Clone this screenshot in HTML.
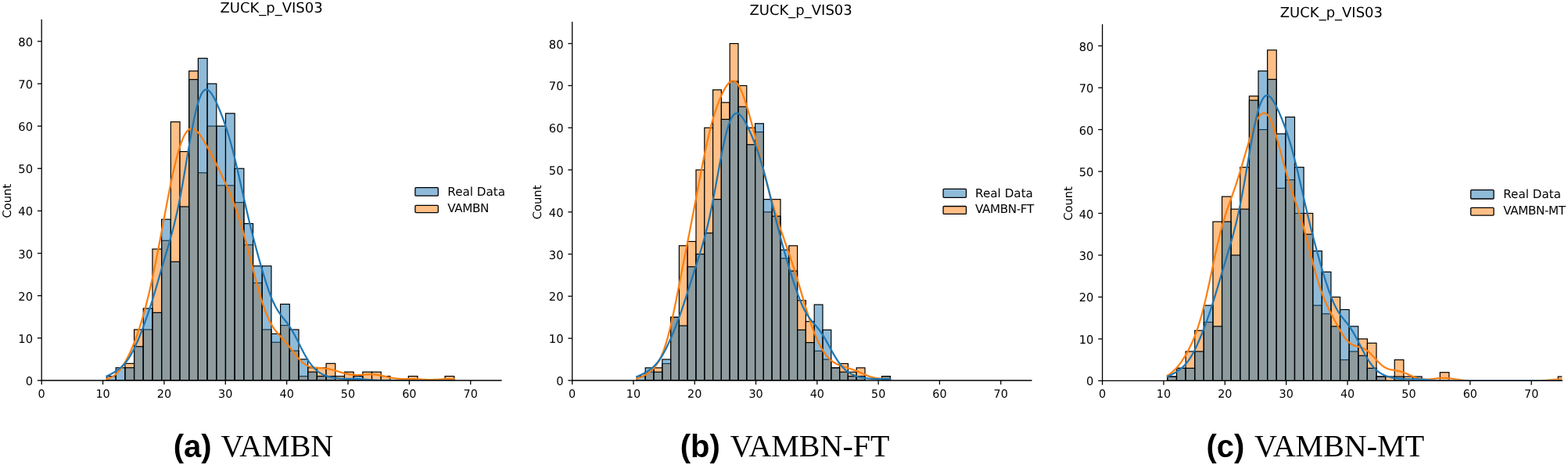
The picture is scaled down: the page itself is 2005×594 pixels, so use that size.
<!DOCTYPE html>
<html><head><meta charset="utf-8"><title>ZUCK_p_VIS03 histograms</title>
<style>
html,body{margin:0;padding:0;background:#fff;}
body{width:2005px;height:594px;position:relative;overflow:hidden;}
svg{position:absolute;left:0;top:0;}
svg text{font-family:'DejaVu Sans','Liberation Sans',sans-serif;fill:#000;text-rendering:geometricPrecision;}
.cap{position:absolute;top:541.5px;white-space:nowrap;font-size:40px;line-height:56px;color:#000;}
.cap.b{font-family:'Liberation Sans',Arial,sans-serif;font-weight:bold;}
.cap.s{font-family:'Liberation Serif','Times New Roman',serif;}
</style></head><body>
<svg width="2005" height="594" viewBox="0 0 2005 594">
<clipPath id="cVAMBN"><rect x="53.2" y="25.3" width="587.70" height="460.70"/></clipPath>
<g clip-path="url(#cVAMBN)">
<rect x="159.88" y="464.34" width="11.69" height="21.66" fill="#ffbf86" stroke="#000" stroke-width="1.2"/>
<rect x="171.57" y="421.02" width="11.69" height="64.98" fill="#ffbf86" stroke="#000" stroke-width="1.2"/>
<rect x="183.26" y="421.02" width="11.69" height="64.98" fill="#ffbf86" stroke="#000" stroke-width="1.2"/>
<rect x="194.95" y="318.13" width="11.69" height="167.87" fill="#ffbf86" stroke="#000" stroke-width="1.2"/>
<rect x="206.64" y="307.31" width="11.69" height="178.69" fill="#ffbf86" stroke="#000" stroke-width="1.2"/>
<rect x="218.33" y="155.69" width="11.69" height="330.31" fill="#ffbf86" stroke="#000" stroke-width="1.2"/>
<rect x="230.02" y="193.59" width="11.69" height="292.41" fill="#ffbf86" stroke="#000" stroke-width="1.2"/>
<rect x="241.71" y="90.70" width="11.69" height="395.30" fill="#ffbf86" stroke="#000" stroke-width="1.2"/>
<rect x="253.40" y="220.67" width="11.69" height="265.33" fill="#ffbf86" stroke="#000" stroke-width="1.2"/>
<rect x="265.09" y="161.10" width="11.69" height="324.90" fill="#ffbf86" stroke="#000" stroke-width="1.2"/>
<rect x="276.78" y="236.91" width="11.69" height="249.09" fill="#ffbf86" stroke="#000" stroke-width="1.2"/>
<rect x="288.47" y="236.91" width="11.69" height="249.09" fill="#ffbf86" stroke="#000" stroke-width="1.2"/>
<rect x="300.16" y="258.57" width="11.69" height="227.43" fill="#ffbf86" stroke="#000" stroke-width="1.2"/>
<rect x="311.85" y="312.72" width="11.69" height="173.28" fill="#ffbf86" stroke="#000" stroke-width="1.2"/>
<rect x="323.54" y="361.45" width="11.69" height="124.55" fill="#ffbf86" stroke="#000" stroke-width="1.2"/>
<rect x="335.23" y="421.02" width="11.69" height="64.98" fill="#ffbf86" stroke="#000" stroke-width="1.2"/>
<rect x="346.92" y="437.26" width="11.69" height="48.73" fill="#ffbf86" stroke="#000" stroke-width="1.2"/>
<rect x="358.61" y="415.61" width="11.69" height="70.39" fill="#ffbf86" stroke="#000" stroke-width="1.2"/>
<rect x="370.30" y="448.10" width="11.69" height="37.91" fill="#ffbf86" stroke="#000" stroke-width="1.2"/>
<rect x="381.99" y="480.58" width="11.69" height="5.42" fill="#ffbf86" stroke="#000" stroke-width="1.2"/>
<rect x="393.68" y="469.75" width="11.69" height="16.25" fill="#ffbf86" stroke="#000" stroke-width="1.2"/>
<rect x="405.37" y="469.75" width="11.69" height="16.25" fill="#ffbf86" stroke="#000" stroke-width="1.2"/>
<rect x="417.06" y="464.34" width="11.69" height="21.66" fill="#ffbf86" stroke="#000" stroke-width="1.2"/>
<rect x="428.75" y="480.58" width="11.69" height="5.42" fill="#ffbf86" stroke="#000" stroke-width="1.2"/>
<rect x="440.44" y="475.17" width="11.69" height="10.83" fill="#ffbf86" stroke="#000" stroke-width="1.2"/>
<rect x="463.82" y="475.17" width="11.69" height="10.83" fill="#ffbf86" stroke="#000" stroke-width="1.2"/>
<rect x="475.51" y="475.17" width="11.69" height="10.83" fill="#ffbf86" stroke="#000" stroke-width="1.2"/>
<rect x="487.20" y="480.58" width="11.69" height="5.42" fill="#ffbf86" stroke="#000" stroke-width="1.2"/>
<rect x="522.27" y="480.58" width="11.69" height="5.42" fill="#ffbf86" stroke="#000" stroke-width="1.2"/>
<rect x="569.03" y="480.58" width="11.69" height="5.42" fill="#ffbf86" stroke="#000" stroke-width="1.2"/>
<rect x="136.50" y="480.58" width="11.69" height="5.42" fill="rgba(31,119,180,0.5)" stroke="#000" stroke-width="1.2"/>
<rect x="148.19" y="469.75" width="11.69" height="16.25" fill="rgba(31,119,180,0.5)" stroke="#000" stroke-width="1.2"/>
<rect x="159.88" y="469.75" width="11.69" height="16.25" fill="rgba(31,119,180,0.5)" stroke="#000" stroke-width="1.2"/>
<rect x="171.57" y="442.68" width="11.69" height="43.32" fill="rgba(31,119,180,0.5)" stroke="#000" stroke-width="1.2"/>
<rect x="183.26" y="393.94" width="11.69" height="92.06" fill="rgba(31,119,180,0.5)" stroke="#000" stroke-width="1.2"/>
<rect x="194.95" y="399.36" width="11.69" height="86.64" fill="rgba(31,119,180,0.5)" stroke="#000" stroke-width="1.2"/>
<rect x="206.64" y="280.23" width="11.69" height="205.77" fill="rgba(31,119,180,0.5)" stroke="#000" stroke-width="1.2"/>
<rect x="218.33" y="334.38" width="11.69" height="151.62" fill="rgba(31,119,180,0.5)" stroke="#000" stroke-width="1.2"/>
<rect x="230.02" y="263.99" width="11.69" height="222.02" fill="rgba(31,119,180,0.5)" stroke="#000" stroke-width="1.2"/>
<rect x="241.71" y="101.54" width="11.69" height="384.46" fill="rgba(31,119,180,0.5)" stroke="#000" stroke-width="1.2"/>
<rect x="253.40" y="74.46" width="11.69" height="411.54" fill="rgba(31,119,180,0.5)" stroke="#000" stroke-width="1.2"/>
<rect x="265.09" y="106.95" width="11.69" height="379.05" fill="rgba(31,119,180,0.5)" stroke="#000" stroke-width="1.2"/>
<rect x="276.78" y="161.10" width="11.69" height="324.90" fill="rgba(31,119,180,0.5)" stroke="#000" stroke-width="1.2"/>
<rect x="288.47" y="144.86" width="11.69" height="341.14" fill="rgba(31,119,180,0.5)" stroke="#000" stroke-width="1.2"/>
<rect x="300.16" y="215.25" width="11.69" height="270.75" fill="rgba(31,119,180,0.5)" stroke="#000" stroke-width="1.2"/>
<rect x="311.85" y="285.64" width="11.69" height="200.35" fill="rgba(31,119,180,0.5)" stroke="#000" stroke-width="1.2"/>
<rect x="323.54" y="339.79" width="11.69" height="146.21" fill="rgba(31,119,180,0.5)" stroke="#000" stroke-width="1.2"/>
<rect x="335.23" y="339.79" width="11.69" height="146.21" fill="rgba(31,119,180,0.5)" stroke="#000" stroke-width="1.2"/>
<rect x="346.92" y="426.44" width="11.69" height="59.56" fill="rgba(31,119,180,0.5)" stroke="#000" stroke-width="1.2"/>
<rect x="358.61" y="388.53" width="11.69" height="97.47" fill="rgba(31,119,180,0.5)" stroke="#000" stroke-width="1.2"/>
<rect x="370.30" y="421.02" width="11.69" height="64.98" fill="rgba(31,119,180,0.5)" stroke="#000" stroke-width="1.2"/>
<rect x="381.99" y="458.93" width="11.69" height="27.07" fill="rgba(31,119,180,0.5)" stroke="#000" stroke-width="1.2"/>
<rect x="393.68" y="475.17" width="11.69" height="10.83" fill="rgba(31,119,180,0.5)" stroke="#000" stroke-width="1.2"/>
<rect x="405.37" y="480.58" width="11.69" height="5.42" fill="rgba(31,119,180,0.5)" stroke="#000" stroke-width="1.2"/>
<rect x="417.06" y="480.58" width="11.69" height="5.42" fill="rgba(31,119,180,0.5)" stroke="#000" stroke-width="1.2"/>
<rect x="452.13" y="480.58" width="11.69" height="5.42" fill="rgba(31,119,180,0.5)" stroke="#000" stroke-width="1.2"/>
<polyline points="136.50,484.20 137.61,483.88 138.73,483.51 139.84,483.10 140.95,482.63 142.07,482.10 143.18,481.51 144.29,480.85 145.41,480.12 146.52,479.31 147.63,478.43 148.75,477.46 149.86,476.40 150.97,475.26 152.09,474.03 153.20,472.71 154.31,471.29 155.43,469.78 156.54,468.18 157.65,466.48 158.77,464.69 159.88,462.81 160.99,460.84 162.11,458.78 163.22,456.64 164.33,454.40 165.45,452.08 166.56,449.68 167.67,447.19 168.79,444.62 169.90,441.96 171.01,439.22 172.13,436.40 173.24,433.48 174.35,430.47 175.47,427.37 176.58,424.18 177.69,420.88 178.81,417.48 179.92,413.97 181.03,410.35 182.15,406.62 183.26,402.77 184.37,398.80 185.49,394.70 186.60,390.49 187.71,386.15 188.83,381.68 189.94,377.10 191.05,372.39 192.17,367.56 193.28,362.61 194.39,357.55 195.51,352.38 196.62,347.10 197.73,341.72 198.85,336.25 199.96,330.69 201.07,325.04 202.19,319.33 203.30,313.54 204.41,307.70 205.53,301.82 206.64,295.89 207.75,289.94 208.87,283.98 209.98,278.02 211.09,272.07 212.21,266.14 213.32,260.27 214.43,254.45 215.55,248.70 216.66,243.04 217.77,237.49 218.89,232.06 220.00,226.77 221.11,221.62 222.23,216.64 223.34,211.83 224.45,207.21 225.57,202.79 226.68,198.58 227.79,194.59 228.91,190.82 230.02,187.29 231.13,183.99 232.25,180.94 233.36,178.14 234.47,175.60 235.59,173.31 236.70,171.28 237.81,169.51 238.93,168.00 240.04,166.74 241.15,165.74 242.27,164.99 243.38,164.49 244.49,164.23 245.61,164.19 246.72,164.38 247.83,164.77 248.95,165.37 250.06,166.14 251.17,167.09 252.29,168.19 253.40,169.43 254.51,170.80 255.63,172.28 256.74,173.86 257.85,175.52 258.97,177.26 260.08,179.06 261.19,180.92 262.31,182.82 263.42,184.76 264.53,186.73 265.65,188.74 266.76,190.77 267.87,192.83 268.99,194.91 270.10,197.01 271.21,199.13 272.33,201.28 273.44,203.44 274.55,205.63 275.67,207.83 276.78,210.05 277.89,212.29 279.01,214.55 280.12,216.82 281.23,219.11 282.35,221.41 283.46,223.73 284.57,226.07 285.69,228.43 286.80,230.81 287.91,233.21 289.03,235.64 290.14,238.11 291.25,240.60 292.37,243.14 293.48,245.73 294.59,248.37 295.71,251.06 296.82,253.82 297.93,256.66 299.05,259.57 300.16,262.56 301.27,265.63 302.39,268.80 303.50,272.05 304.61,275.40 305.73,278.85 306.84,282.38 307.95,286.02 309.07,289.74 310.18,293.55 311.29,297.45 312.41,301.42 313.52,305.47 314.63,309.59 315.75,313.76 316.86,317.98 317.97,322.25 319.09,326.54 320.20,330.86 321.31,335.19 322.43,339.52 323.54,343.84 324.65,348.14 325.77,352.40 326.88,356.62 327.99,360.79 329.11,364.88 330.22,368.90 331.33,372.83 332.45,376.65 333.56,380.37 334.67,383.96 335.79,387.43 336.90,390.76 338.01,393.96 339.13,397.00 340.24,399.90 341.35,402.65 342.47,405.25 343.58,407.70 344.69,410.00 345.81,412.17 346.92,414.19 348.03,416.09 349.15,417.86 350.26,419.53 351.37,421.09 352.49,422.57 353.60,423.98 354.71,425.32 355.83,426.61 356.94,427.86 358.05,429.08 359.17,430.29 360.28,431.50 361.39,432.71 362.51,433.93 363.62,435.17 364.73,436.44 365.85,437.74 366.96,439.06 368.07,440.42 369.19,441.81 370.30,443.22 371.41,444.66 372.53,446.11 373.64,447.57 374.75,449.04 375.87,450.50 376.98,451.95 378.09,453.38 379.21,454.78 380.32,456.14 381.43,457.46 382.55,458.72 383.66,459.93 384.77,461.06 385.89,462.13 387.00,463.13 388.11,464.05 389.23,464.89 390.34,465.66 391.45,466.35 392.57,466.96 393.68,467.50 394.79,467.97 395.91,468.37 397.02,468.71 398.13,469.00 399.25,469.23 400.36,469.43 401.47,469.58 402.59,469.70 403.70,469.80 404.81,469.87 405.93,469.93 407.04,469.98 408.15,470.03 409.27,470.08 410.38,470.13 411.49,470.19 412.61,470.27 413.72,470.36 414.83,470.46 415.95,470.59 417.06,470.74 418.17,470.90 419.29,471.09 420.40,471.30 421.51,471.53 422.63,471.78 423.74,472.05 424.85,472.34 425.97,472.64 427.08,472.95 428.19,473.27 429.31,473.60 430.42,473.94 431.53,474.28 432.65,474.62 433.76,474.96 434.87,475.30 435.99,475.63 437.10,475.96 438.21,476.27 439.33,476.58 440.44,476.87 441.55,477.15 442.67,477.41 443.78,477.65 444.89,477.88 446.01,478.09 447.12,478.28 448.23,478.45 449.35,478.59 450.46,478.72 451.57,478.82 452.69,478.91 453.80,478.97 454.91,479.01 456.03,479.03 457.14,479.03 458.25,479.02 459.37,478.99 460.48,478.94 461.59,478.89 462.71,478.83 463.82,478.76 464.93,478.68 466.05,478.61 467.16,478.53 468.27,478.47 469.39,478.40 470.50,478.35 471.61,478.31 472.73,478.29 473.84,478.28 474.95,478.29 476.07,478.32 477.18,478.36 478.29,478.43 479.41,478.52 480.52,478.64 481.63,478.77 482.75,478.92 483.86,479.09 484.97,479.29 486.09,479.49 487.20,479.71 488.31,479.95 489.43,480.19 490.54,480.44 491.65,480.70 492.77,480.96 493.88,481.22 494.99,481.48 496.11,481.73 497.22,481.98 498.33,482.22 499.45,482.45 500.56,482.66 501.67,482.86 502.79,483.05 503.90,483.22 505.01,483.38 506.13,483.52 507.24,483.64 508.35,483.74 509.47,483.83 510.58,483.90 511.69,483.96 512.81,484.00 513.92,484.04 515.03,484.06 516.15,484.07 517.26,484.08 518.37,484.08 519.49,484.08 520.60,484.08 521.71,484.08 522.83,484.08 523.94,484.09 525.05,484.10 526.17,484.11 527.28,484.13 528.39,484.16 529.51,484.20 530.62,484.24 531.73,484.28 532.85,484.33 533.96,484.39 535.07,484.45 536.19,484.52 537.30,484.58 538.41,484.65 539.53,484.71 540.64,484.78 541.75,484.84 542.87,484.89 543.98,484.94 545.09,484.98 546.21,485.02 547.32,485.04 548.43,485.06 549.55,485.07 550.66,485.07 551.77,485.06 552.89,485.04 554.00,485.01 555.11,484.97 556.23,484.93 557.34,484.88 558.45,484.82 559.57,484.76 560.68,484.70 561.79,484.64 562.91,484.58 564.02,484.51 565.13,484.46 566.25,484.40 567.36,484.35 568.47,484.31 569.59,484.28 570.70,484.25 571.81,484.24 572.93,484.23 574.04,484.23 575.15,484.25 576.27,484.27 577.38,484.30 578.49,484.35 579.61,484.40 580.72,484.46" fill="none" stroke="#ff7f0e" stroke-width="2.25" stroke-linejoin="round" stroke-linecap="square"/>
<polyline points="136.50,480.47 137.61,479.97 138.73,479.45 139.84,478.91 140.95,478.35 142.07,477.76 143.18,477.16 144.29,476.53 145.41,475.88 146.52,475.21 147.63,474.51 148.75,473.77 149.86,473.01 150.97,472.21 152.09,471.38 153.20,470.49 154.31,469.56 155.43,468.57 156.54,467.52 157.65,466.41 158.77,465.22 159.88,463.96 160.99,462.62 162.11,461.19 163.22,459.67 164.33,458.06 165.45,456.35 166.56,454.55 167.67,452.65 168.79,450.66 169.90,448.57 171.01,446.39 172.13,444.12 173.24,441.76 174.35,439.32 175.47,436.81 176.58,434.22 177.69,431.56 178.81,428.84 179.92,426.05 181.03,423.21 182.15,420.31 183.26,417.35 184.37,414.34 185.49,411.28 186.60,408.16 187.71,404.99 188.83,401.76 189.94,398.48 191.05,395.13 192.17,391.73 193.28,388.26 194.39,384.74 195.51,381.16 196.62,377.53 197.73,373.84 198.85,370.12 199.96,366.36 201.07,362.56 202.19,358.75 203.30,354.92 204.41,351.08 205.53,347.24 206.64,343.41 207.75,339.59 208.87,335.78 209.98,331.98 211.09,328.19 212.21,324.41 213.32,320.63 214.43,316.84 215.55,313.02 216.66,309.16 217.77,305.25 218.89,301.26 220.00,297.18 221.11,292.99 222.23,288.66 223.34,284.19 224.45,279.56 225.57,274.75 226.68,269.74 227.79,264.55 228.91,259.15 230.02,253.56 231.13,247.78 232.25,241.81 233.36,235.68 234.47,229.39 235.59,222.99 236.70,216.48 237.81,209.90 238.93,203.29 240.04,196.69 241.15,190.11 242.27,183.62 243.38,177.24 244.49,171.02 245.61,164.98 246.72,159.18 247.83,153.64 248.95,148.38 250.06,143.46 251.17,138.87 252.29,134.66 253.40,130.83 254.51,127.39 255.63,124.36 256.74,121.75 257.85,119.54 258.97,117.74 260.08,116.34 261.19,115.34 262.31,114.70 263.42,114.43 264.53,114.49 265.65,114.88 266.76,115.56 267.87,116.51 268.99,117.71 270.10,119.14 271.21,120.77 272.33,122.58 273.44,124.55 274.55,126.67 275.67,128.90 276.78,131.24 277.89,133.69 279.01,136.22 280.12,138.83 281.23,141.52 282.35,144.29 283.46,147.14 284.57,150.06 285.69,153.07 286.80,156.17 287.91,159.37 289.03,162.67 290.14,166.08 291.25,169.61 292.37,173.25 293.48,177.02 294.59,180.92 295.71,184.94 296.82,189.09 297.93,193.37 299.05,197.75 300.16,202.25 301.27,206.85 302.39,211.54 303.50,216.31 304.61,221.14 305.73,226.03 306.84,230.96 307.95,235.91 309.07,240.88 310.18,245.84 311.29,250.80 312.41,255.72 313.52,260.62 314.63,265.47 315.75,270.27 316.86,275.01 317.97,279.70 319.09,284.32 320.20,288.87 321.31,293.37 322.43,297.79 323.54,302.16 324.65,306.46 325.77,310.71 326.88,314.90 327.99,319.03 329.11,323.12 330.22,327.16 331.33,331.15 332.45,335.09 333.56,338.99 334.67,342.83 335.79,346.62 336.90,350.35 338.01,354.01 339.13,357.60 340.24,361.10 341.35,364.52 342.47,367.83 343.58,371.04 344.69,374.13 345.81,377.09 346.92,379.93 348.03,382.63 349.15,385.18 350.26,387.60 351.37,389.88 352.49,392.02 353.60,394.03 354.71,395.92 355.83,397.69 356.94,399.37 358.05,400.95 359.17,402.47 360.28,403.93 361.39,405.34 362.51,406.74 363.62,408.13 364.73,409.53 365.85,410.95 366.96,412.41 368.07,413.92 369.19,415.49 370.30,417.12 371.41,418.83 372.53,420.60 373.64,422.45 374.75,424.37 375.87,426.36 376.98,428.41 378.09,430.52 379.21,432.66 380.32,434.85 381.43,437.05 382.55,439.27 383.66,441.49 384.77,443.70 385.89,445.89 387.00,448.05 388.11,450.16 389.23,452.22 390.34,454.23 391.45,456.16 392.57,458.03 393.68,459.81 394.79,461.52 395.91,463.14 397.02,464.68 398.13,466.14 399.25,467.50 400.36,468.79 401.47,469.99 402.59,471.11 403.70,472.16 404.81,473.13 405.93,474.04 407.04,474.87 408.15,475.65 409.27,476.37 410.38,477.03 411.49,477.64 412.61,478.20 413.72,478.72 414.83,479.20 415.95,479.65 417.06,480.06 418.17,480.43 419.29,480.78 420.40,481.11 421.51,481.40 422.63,481.68 423.74,481.93 424.85,482.17 425.97,482.39 427.08,482.59 428.19,482.77 429.31,482.93 430.42,483.08 431.53,483.22 432.65,483.34 433.76,483.45 434.87,483.54 435.99,483.62 437.10,483.68 438.21,483.74 439.33,483.78 440.44,483.81 441.55,483.83 442.67,483.85 443.78,483.86 444.89,483.86 446.01,483.86 447.12,483.86 448.23,483.86 449.35,483.86 450.46,483.86 451.57,483.86 452.69,483.88 453.80,483.89 454.91,483.92 456.03,483.95 457.14,484.00 458.25,484.05 459.37,484.11 460.48,484.18 461.59,484.25 462.71,484.33 463.82,484.42 464.93,484.51 466.05,484.61 467.16,484.70 468.27,484.80 469.39,484.90 470.50,484.99 471.61,485.09 472.73,485.18 473.84,485.27 474.95,485.35 476.07,485.42 477.18,485.49 478.29,485.56 479.41,485.62 480.52,485.67 481.63,485.72 482.75,485.76 483.86,485.80 484.97,485.83 486.09,485.86 487.20,485.89 488.31,485.91 489.43,485.92 490.54,485.94 491.65,485.95 492.77,485.96 493.88,485.97 494.99,485.98 496.11,485.98 497.22,485.98 498.33,485.99 499.45,485.99 500.56,485.99 501.67,485.99 502.79,486.00 503.90,486.00 505.01,486.00 506.13,486.00 507.24,486.00 508.35,486.00 509.47,486.00 510.58,486.00 511.69,486.00 512.81,486.00 513.92,486.00 515.03,486.00 516.15,486.00 517.26,486.00 518.37,486.00 519.49,486.00 520.60,486.00 521.71,486.00 522.83,486.00 523.94,486.00 525.05,486.00 526.17,486.00 527.28,486.00 528.39,486.00 529.51,486.00 530.62,486.00 531.73,486.00 532.85,486.00 533.96,486.00 535.07,486.00 536.19,486.00 537.30,486.00 538.41,486.00 539.53,486.00 540.64,486.00 541.75,486.00 542.87,486.00 543.98,486.00 545.09,486.00 546.21,486.00 547.32,486.00 548.43,486.00 549.55,486.00 550.66,486.00 551.77,486.00 552.89,486.00 554.00,486.00 555.11,486.00 556.23,486.00 557.34,486.00 558.45,486.00 559.57,486.00 560.68,486.00 561.79,486.00 562.91,486.00 564.02,486.00 565.13,486.00 566.25,486.00 567.36,486.00 568.47,486.00 569.59,486.00 570.70,486.00 571.81,486.00 572.93,486.00 574.04,486.00 575.15,486.00 576.27,486.00 577.38,486.00 578.49,486.00 579.61,486.00 580.72,486.00" fill="none" stroke="#1f77b4" stroke-width="2.25" stroke-linejoin="round" stroke-linecap="square"/>
</g>
<line x1="53.2" y1="25.3" x2="53.2" y2="486.0" stroke="#000" stroke-width="1.3" stroke-linecap="square"/>
<line x1="53.2" y1="486.0" x2="640.90" y2="486.0" stroke="#000" stroke-width="1.3" stroke-linecap="square"/>
<line x1="47.90" y1="486.00" x2="53.2" y2="486.00" stroke="#000" stroke-width="1.3"/>
<text transform="translate(42.00,492.00) scale(1,1)" text-anchor="end" font-size="14.7">0</text>
<line x1="47.90" y1="431.85" x2="53.2" y2="431.85" stroke="#000" stroke-width="1.3"/>
<text transform="translate(42.00,437.85) scale(1,1)" text-anchor="end" font-size="14.7">10</text>
<line x1="47.90" y1="377.70" x2="53.2" y2="377.70" stroke="#000" stroke-width="1.3"/>
<text transform="translate(42.00,383.70) scale(1,1)" text-anchor="end" font-size="14.7">20</text>
<line x1="47.90" y1="323.55" x2="53.2" y2="323.55" stroke="#000" stroke-width="1.3"/>
<text transform="translate(42.00,329.55) scale(1,1)" text-anchor="end" font-size="14.7">30</text>
<line x1="47.90" y1="269.40" x2="53.2" y2="269.40" stroke="#000" stroke-width="1.3"/>
<text transform="translate(42.00,275.40) scale(1,1)" text-anchor="end" font-size="14.7">40</text>
<line x1="47.90" y1="215.25" x2="53.2" y2="215.25" stroke="#000" stroke-width="1.3"/>
<text transform="translate(42.00,221.25) scale(1,1)" text-anchor="end" font-size="14.7">50</text>
<line x1="47.90" y1="161.10" x2="53.2" y2="161.10" stroke="#000" stroke-width="1.3"/>
<text transform="translate(42.00,167.10) scale(1,1)" text-anchor="end" font-size="14.7">60</text>
<line x1="47.90" y1="106.95" x2="53.2" y2="106.95" stroke="#000" stroke-width="1.3"/>
<text transform="translate(42.00,112.95) scale(1,1)" text-anchor="end" font-size="14.7">70</text>
<line x1="47.90" y1="52.80" x2="53.2" y2="52.80" stroke="#000" stroke-width="1.3"/>
<text transform="translate(42.00,58.80) scale(1,1)" text-anchor="end" font-size="14.7">80</text>
<line x1="53.20" y1="486.0" x2="53.20" y2="491.30" stroke="#000" stroke-width="1.3"/>
<text transform="translate(53.20,508.00) scale(1,1)" text-anchor="middle" font-size="14.4">0</text>
<line x1="131.56" y1="486.0" x2="131.56" y2="491.30" stroke="#000" stroke-width="1.3"/>
<text transform="translate(131.56,508.00) scale(1,1)" text-anchor="middle" font-size="14.4">10</text>
<line x1="209.92" y1="486.0" x2="209.92" y2="491.30" stroke="#000" stroke-width="1.3"/>
<text transform="translate(209.92,508.00) scale(1,1)" text-anchor="middle" font-size="14.4">20</text>
<line x1="288.28" y1="486.0" x2="288.28" y2="491.30" stroke="#000" stroke-width="1.3"/>
<text transform="translate(288.28,508.00) scale(1,1)" text-anchor="middle" font-size="14.4">30</text>
<line x1="366.64" y1="486.0" x2="366.64" y2="491.30" stroke="#000" stroke-width="1.3"/>
<text transform="translate(366.64,508.00) scale(1,1)" text-anchor="middle" font-size="14.4">40</text>
<line x1="445.00" y1="486.0" x2="445.00" y2="491.30" stroke="#000" stroke-width="1.3"/>
<text transform="translate(445.00,508.00) scale(1,1)" text-anchor="middle" font-size="14.4">50</text>
<line x1="523.36" y1="486.0" x2="523.36" y2="491.30" stroke="#000" stroke-width="1.3"/>
<text transform="translate(523.36,508.00) scale(1,1)" text-anchor="middle" font-size="14.4">60</text>
<line x1="601.72" y1="486.0" x2="601.72" y2="491.30" stroke="#000" stroke-width="1.3"/>
<text transform="translate(601.72,508.00) scale(1,1)" text-anchor="middle" font-size="14.4">70</text>
<text x="347.05" y="16.3" text-anchor="middle" font-size="18">ZUCK_p_VIS03</text>
<text transform="translate(14.4,256.8) rotate(-90)" text-anchor="middle" font-size="14.7">Count</text>
<rect x="530.90" y="239.70" width="29.40" height="10.50" rx="1" fill="#8fbbd9" stroke="#000" stroke-width="1.3"/>
<text x="572.30" y="250.00" font-size="15.2">Real Data</text>
<rect x="530.90" y="262.30" width="29.40" height="9.30" rx="1" fill="#ffbf86" stroke="#000" stroke-width="1.3"/>
<text x="572.30" y="270.90" font-size="15.2" letter-spacing="-0.4">VAMBN</text>
<clipPath id="cVAMBNFT"><rect x="731.7" y="28.3" width="587.17" height="457.70"/></clipPath>
<g clip-path="url(#cVAMBNFT)">
<rect x="825.20" y="475.24" width="10.80" height="10.76" fill="#ffbf86" stroke="#000" stroke-width="1.2"/>
<rect x="836.00" y="469.86" width="10.80" height="16.14" fill="#ffbf86" stroke="#000" stroke-width="1.2"/>
<rect x="846.80" y="464.48" width="10.80" height="21.52" fill="#ffbf86" stroke="#000" stroke-width="1.2"/>
<rect x="857.60" y="405.30" width="10.80" height="80.70" fill="#ffbf86" stroke="#000" stroke-width="1.2"/>
<rect x="868.40" y="313.84" width="10.80" height="172.16" fill="#ffbf86" stroke="#000" stroke-width="1.2"/>
<rect x="879.20" y="308.46" width="10.80" height="177.54" fill="#ffbf86" stroke="#000" stroke-width="1.2"/>
<rect x="890.00" y="217.00" width="10.80" height="269.00" fill="#ffbf86" stroke="#000" stroke-width="1.2"/>
<rect x="900.80" y="163.20" width="10.80" height="322.80" fill="#ffbf86" stroke="#000" stroke-width="1.2"/>
<rect x="911.60" y="114.78" width="10.80" height="371.22" fill="#ffbf86" stroke="#000" stroke-width="1.2"/>
<rect x="922.40" y="130.92" width="10.80" height="355.08" fill="#ffbf86" stroke="#000" stroke-width="1.2"/>
<rect x="933.20" y="55.60" width="10.80" height="430.40" fill="#ffbf86" stroke="#000" stroke-width="1.2"/>
<rect x="944.00" y="109.40" width="10.80" height="376.60" fill="#ffbf86" stroke="#000" stroke-width="1.2"/>
<rect x="954.80" y="163.20" width="10.80" height="322.80" fill="#ffbf86" stroke="#000" stroke-width="1.2"/>
<rect x="965.60" y="168.58" width="10.80" height="317.42" fill="#ffbf86" stroke="#000" stroke-width="1.2"/>
<rect x="976.40" y="270.80" width="10.80" height="215.20" fill="#ffbf86" stroke="#000" stroke-width="1.2"/>
<rect x="987.20" y="254.66" width="10.80" height="231.34" fill="#ffbf86" stroke="#000" stroke-width="1.2"/>
<rect x="998.00" y="329.98" width="10.80" height="156.02" fill="#ffbf86" stroke="#000" stroke-width="1.2"/>
<rect x="1008.80" y="313.84" width="10.80" height="172.16" fill="#ffbf86" stroke="#000" stroke-width="1.2"/>
<rect x="1019.60" y="383.78" width="10.80" height="102.22" fill="#ffbf86" stroke="#000" stroke-width="1.2"/>
<rect x="1030.40" y="410.68" width="10.80" height="75.32" fill="#ffbf86" stroke="#000" stroke-width="1.2"/>
<rect x="1041.20" y="448.34" width="10.80" height="37.66" fill="#ffbf86" stroke="#000" stroke-width="1.2"/>
<rect x="1052.00" y="459.10" width="10.80" height="26.90" fill="#ffbf86" stroke="#000" stroke-width="1.2"/>
<rect x="1062.80" y="469.86" width="10.80" height="16.14" fill="#ffbf86" stroke="#000" stroke-width="1.2"/>
<rect x="1073.60" y="464.48" width="10.80" height="21.52" fill="#ffbf86" stroke="#000" stroke-width="1.2"/>
<rect x="1084.40" y="475.24" width="10.80" height="10.76" fill="#ffbf86" stroke="#000" stroke-width="1.2"/>
<rect x="1095.20" y="469.86" width="10.80" height="16.14" fill="#ffbf86" stroke="#000" stroke-width="1.2"/>
<rect x="1127.60" y="480.62" width="10.80" height="5.38" fill="#ffbf86" stroke="#000" stroke-width="1.2"/>
<rect x="814.40" y="480.62" width="10.80" height="5.38" fill="rgba(31,119,180,0.5)" stroke="#000" stroke-width="1.2"/>
<rect x="825.20" y="469.86" width="10.80" height="16.14" fill="rgba(31,119,180,0.5)" stroke="#000" stroke-width="1.2"/>
<rect x="836.00" y="475.24" width="10.80" height="10.76" fill="rgba(31,119,180,0.5)" stroke="#000" stroke-width="1.2"/>
<rect x="846.80" y="459.10" width="10.80" height="26.90" fill="rgba(31,119,180,0.5)" stroke="#000" stroke-width="1.2"/>
<rect x="857.60" y="405.30" width="10.80" height="80.70" fill="rgba(31,119,180,0.5)" stroke="#000" stroke-width="1.2"/>
<rect x="868.40" y="416.06" width="10.80" height="69.94" fill="rgba(31,119,180,0.5)" stroke="#000" stroke-width="1.2"/>
<rect x="879.20" y="340.74" width="10.80" height="145.26" fill="rgba(31,119,180,0.5)" stroke="#000" stroke-width="1.2"/>
<rect x="890.00" y="324.60" width="10.80" height="161.40" fill="rgba(31,119,180,0.5)" stroke="#000" stroke-width="1.2"/>
<rect x="900.80" y="297.70" width="10.80" height="188.30" fill="rgba(31,119,180,0.5)" stroke="#000" stroke-width="1.2"/>
<rect x="911.60" y="254.66" width="10.80" height="231.34" fill="rgba(31,119,180,0.5)" stroke="#000" stroke-width="1.2"/>
<rect x="922.40" y="152.44" width="10.80" height="333.56" fill="rgba(31,119,180,0.5)" stroke="#000" stroke-width="1.2"/>
<rect x="933.20" y="104.02" width="10.80" height="381.98" fill="rgba(31,119,180,0.5)" stroke="#000" stroke-width="1.2"/>
<rect x="944.00" y="136.30" width="10.80" height="349.70" fill="rgba(31,119,180,0.5)" stroke="#000" stroke-width="1.2"/>
<rect x="954.80" y="184.72" width="10.80" height="301.28" fill="rgba(31,119,180,0.5)" stroke="#000" stroke-width="1.2"/>
<rect x="965.60" y="157.82" width="10.80" height="328.18" fill="rgba(31,119,180,0.5)" stroke="#000" stroke-width="1.2"/>
<rect x="976.40" y="254.66" width="10.80" height="231.34" fill="rgba(31,119,180,0.5)" stroke="#000" stroke-width="1.2"/>
<rect x="987.20" y="276.18" width="10.80" height="209.82" fill="rgba(31,119,180,0.5)" stroke="#000" stroke-width="1.2"/>
<rect x="998.00" y="319.22" width="10.80" height="166.78" fill="rgba(31,119,180,0.5)" stroke="#000" stroke-width="1.2"/>
<rect x="1008.80" y="346.12" width="10.80" height="139.88" fill="rgba(31,119,180,0.5)" stroke="#000" stroke-width="1.2"/>
<rect x="1019.60" y="421.44" width="10.80" height="64.56" fill="rgba(31,119,180,0.5)" stroke="#000" stroke-width="1.2"/>
<rect x="1030.40" y="437.58" width="10.80" height="48.42" fill="rgba(31,119,180,0.5)" stroke="#000" stroke-width="1.2"/>
<rect x="1041.20" y="389.16" width="10.80" height="96.84" fill="rgba(31,119,180,0.5)" stroke="#000" stroke-width="1.2"/>
<rect x="1052.00" y="421.44" width="10.80" height="64.56" fill="rgba(31,119,180,0.5)" stroke="#000" stroke-width="1.2"/>
<rect x="1062.80" y="469.86" width="10.80" height="16.14" fill="rgba(31,119,180,0.5)" stroke="#000" stroke-width="1.2"/>
<rect x="1073.60" y="475.24" width="10.80" height="10.76" fill="rgba(31,119,180,0.5)" stroke="#000" stroke-width="1.2"/>
<rect x="1084.40" y="480.62" width="10.80" height="5.38" fill="rgba(31,119,180,0.5)" stroke="#000" stroke-width="1.2"/>
<rect x="1095.20" y="480.62" width="10.80" height="5.38" fill="rgba(31,119,180,0.5)" stroke="#000" stroke-width="1.2"/>
<rect x="1127.60" y="480.62" width="10.80" height="5.38" fill="rgba(31,119,180,0.5)" stroke="#000" stroke-width="1.2"/>
<polyline points="814.40,483.54 815.21,483.29 816.02,483.02 816.84,482.74 817.65,482.44 818.46,482.12 819.27,481.79 820.08,481.43 820.90,481.06 821.71,480.68 822.52,480.27 823.33,479.84 824.14,479.40 824.96,478.94 825.77,478.46 826.58,477.96 827.39,477.43 828.20,476.89 829.02,476.32 829.83,475.73 830.64,475.11 831.45,474.46 832.26,473.79 833.08,473.08 833.89,472.33 834.70,471.55 835.51,470.72 836.32,469.84 837.14,468.91 837.95,467.93 838.76,466.89 839.57,465.79 840.38,464.61 841.20,463.36 842.01,462.03 842.82,460.62 843.63,459.11 844.45,457.51 845.26,455.82 846.07,454.02 846.88,452.11 847.69,450.09 848.51,447.96 849.32,445.71 850.13,443.35 850.94,440.86 851.75,438.26 852.57,435.54 853.38,432.69 854.19,429.74 855.00,426.66 855.81,423.48 856.63,420.19 857.44,416.79 858.25,413.30 859.06,409.72 859.87,406.05 860.69,402.30 861.50,398.48 862.31,394.60 863.12,390.66 863.93,386.67 864.75,382.63 865.56,378.57 866.37,374.47 867.18,370.35 867.99,366.22 868.81,362.07 869.62,357.92 870.43,353.77 871.24,349.62 872.05,345.47 872.87,341.33 873.68,337.19 874.49,333.06 875.30,328.94 876.11,324.82 876.93,320.71 877.74,316.60 878.55,312.49 879.36,308.38 880.17,304.26 880.99,300.14 881.80,296.00 882.61,291.86 883.42,287.70 884.23,283.53 885.05,279.34 885.86,275.13 886.67,270.91 887.48,266.66 888.29,262.41 889.11,258.14 889.92,253.85 890.73,249.56 891.54,245.27 892.35,240.97 893.17,236.68 893.98,232.40 894.79,228.13 895.60,223.88 896.42,219.66 897.23,215.47 898.04,211.32 898.85,207.22 899.66,203.16 900.48,199.16 901.29,195.22 902.10,191.35 902.91,187.55 903.72,183.83 904.54,180.18 905.35,176.62 906.16,173.15 906.97,169.76 907.78,166.47 908.60,163.27 909.41,160.16 910.22,157.14 911.03,154.22 911.84,151.39 912.66,148.64 913.47,145.99 914.28,143.43 915.09,140.94 915.90,138.54 916.72,136.22 917.53,133.98 918.34,131.81 919.15,129.72 919.96,127.69 920.78,125.73 921.59,123.84 922.40,122.02 923.21,120.26 924.02,118.56 924.84,116.94 925.65,115.38 926.46,113.90 927.27,112.49 928.08,111.16 928.90,109.92 929.71,108.76 930.52,107.69 931.33,106.73 932.14,105.87 932.96,105.12 933.77,104.49 934.58,103.98 935.39,103.60 936.20,103.36 937.02,103.25 937.83,103.29 938.64,103.47 939.45,103.81 940.26,104.29 941.08,104.93 941.89,105.71 942.70,106.65 943.51,107.74 944.32,108.97 945.14,110.35 945.95,111.86 946.76,113.50 947.57,115.27 948.38,117.17 949.20,119.17 950.01,121.28 950.82,123.49 951.63,125.80 952.45,128.19 953.26,130.66 954.07,133.20 954.88,135.81 955.69,138.49 956.51,141.21 957.32,144.00 958.13,146.82 958.94,149.70 959.75,152.61 960.57,155.56 961.38,158.55 962.19,161.57 963.00,164.62 963.81,167.70 964.63,170.81 965.44,173.95 966.25,177.11 967.06,180.29 967.87,183.50 968.69,186.72 969.50,189.96 970.31,193.21 971.12,196.47 971.93,199.74 972.75,203.01 973.56,206.29 974.37,209.55 975.18,212.81 975.99,216.06 976.81,219.30 977.62,222.51 978.43,225.70 979.24,228.86 980.05,232.00 980.87,235.10 981.68,238.17 982.49,241.20 983.30,244.19 984.11,247.14 984.93,250.06 985.74,252.93 986.55,255.77 987.36,258.57 988.17,261.33 988.99,264.05 989.80,266.73 990.61,269.39 991.42,272.00 992.23,274.59 993.05,277.15 993.86,279.68 994.67,282.18 995.48,284.66 996.29,287.12 997.11,289.56 997.92,291.97 998.73,294.37 999.54,296.76 1000.35,299.13 1001.17,301.49 1001.98,303.84 1002.79,306.18 1003.60,308.52 1004.42,310.85 1005.23,313.18 1006.04,315.52 1006.85,317.86 1007.66,320.21 1008.48,322.57 1009.29,324.94 1010.10,327.33 1010.91,329.74 1011.72,332.17 1012.54,334.61 1013.35,337.09 1014.16,339.58 1014.97,342.11 1015.78,344.66 1016.60,347.23 1017.41,349.83 1018.22,352.46 1019.03,355.11 1019.84,357.78 1020.66,360.47 1021.47,363.17 1022.28,365.89 1023.09,368.62 1023.90,371.36 1024.72,374.10 1025.53,376.84 1026.34,379.58 1027.15,382.31 1027.96,385.02 1028.78,387.73 1029.59,390.41 1030.40,393.07 1031.21,395.70 1032.02,398.31 1032.84,400.88 1033.65,403.42 1034.46,405.92 1035.27,408.38 1036.08,410.80 1036.90,413.17 1037.71,415.49 1038.52,417.77 1039.33,419.99 1040.14,422.17 1040.96,424.29 1041.77,426.35 1042.58,428.37 1043.39,430.32 1044.20,432.22 1045.02,434.06 1045.83,435.84 1046.64,437.57 1047.45,439.23 1048.26,440.84 1049.08,442.39 1049.89,443.88 1050.70,445.31 1051.51,446.68 1052.32,448.00 1053.14,449.26 1053.95,450.47 1054.76,451.62 1055.57,452.72 1056.38,453.77 1057.20,454.76 1058.01,455.71 1058.82,456.61 1059.63,457.46 1060.45,458.26 1061.26,459.02 1062.07,459.74 1062.88,460.42 1063.69,461.06 1064.51,461.67 1065.32,462.24 1066.13,462.78 1066.94,463.28 1067.75,463.76 1068.57,464.21 1069.38,464.64 1070.19,465.04 1071.00,465.42 1071.81,465.79 1072.63,466.13 1073.44,466.46 1074.25,466.78 1075.06,467.08 1075.87,467.38 1076.69,467.66 1077.50,467.94 1078.31,468.21 1079.12,468.47 1079.93,468.73 1080.75,468.99 1081.56,469.24 1082.37,469.50 1083.18,469.75 1083.99,470.00 1084.81,470.26 1085.62,470.52 1086.43,470.78 1087.24,471.04 1088.05,471.31 1088.87,471.58 1089.68,471.85 1090.49,472.13 1091.30,472.42 1092.11,472.71 1092.93,473.01 1093.74,473.31 1094.55,473.63 1095.36,473.94 1096.17,474.27 1096.99,474.60 1097.80,474.94 1098.61,475.28 1099.42,475.63 1100.23,475.98 1101.05,476.34 1101.86,476.70 1102.67,477.06 1103.48,477.42 1104.29,477.78 1105.11,478.14 1105.92,478.50 1106.73,478.85 1107.54,479.20 1108.35,479.54 1109.17,479.87 1109.98,480.19 1110.79,480.50 1111.60,480.80 1112.42,481.08 1113.23,481.35 1114.04,481.61 1114.85,481.84 1115.66,482.07 1116.48,482.27 1117.29,482.46 1118.10,482.63 1118.91,482.79 1119.72,482.93 1120.54,483.06 1121.35,483.17 1122.16,483.27 1122.97,483.36 1123.78,483.43 1124.60,483.50 1125.41,483.56 1126.22,483.61 1127.03,483.65 1127.84,483.70 1128.66,483.73 1129.47,483.77 1130.28,483.80 1131.09,483.84 1131.90,483.88 1132.72,483.91 1133.53,483.96 1134.34,484.00 1135.15,484.05 1135.96,484.10 1136.78,484.15 1137.59,484.21 1138.40,484.27" fill="none" stroke="#ff7f0e" stroke-width="2.25" stroke-linejoin="round" stroke-linecap="square"/>
<polyline points="814.40,481.13 815.21,480.80 816.02,480.47 816.84,480.12 817.65,479.76 818.46,479.39 819.27,479.02 820.08,478.63 820.90,478.23 821.71,477.82 822.52,477.40 823.33,476.97 824.14,476.53 824.96,476.07 825.77,475.60 826.58,475.12 827.39,474.63 828.20,474.11 829.02,473.58 829.83,473.03 830.64,472.46 831.45,471.87 832.26,471.25 833.08,470.61 833.89,469.94 834.70,469.24 835.51,468.51 836.32,467.75 837.14,466.95 837.95,466.11 838.76,465.24 839.57,464.32 840.38,463.36 841.20,462.35 842.01,461.31 842.82,460.21 843.63,459.07 844.45,457.88 845.26,456.65 846.07,455.37 846.88,454.04 847.69,452.66 848.51,451.24 849.32,449.78 850.13,448.26 850.94,446.71 851.75,445.12 852.57,443.48 853.38,441.81 854.19,440.10 855.00,438.36 855.81,436.58 856.63,434.77 857.44,432.93 858.25,431.06 859.06,429.16 859.87,427.23 860.69,425.27 861.50,423.29 862.31,421.28 863.12,419.25 863.93,417.19 864.75,415.10 865.56,412.99 866.37,410.84 867.18,408.67 867.99,406.48 868.81,404.25 869.62,401.99 870.43,399.71 871.24,397.39 872.05,395.05 872.87,392.68 873.68,390.28 874.49,387.85 875.30,385.40 876.11,382.93 876.93,380.44 877.74,377.92 878.55,375.39 879.36,372.85 880.17,370.29 880.99,367.72 881.80,365.15 882.61,362.58 883.42,360.01 884.23,357.43 885.05,354.86 885.86,352.30 886.67,349.74 887.48,347.19 888.29,344.64 889.11,342.10 889.92,339.56 890.73,337.03 891.54,334.49 892.35,331.95 893.17,329.40 893.98,326.83 894.79,324.25 895.60,321.64 896.42,319.00 897.23,316.31 898.04,313.59 898.85,310.81 899.66,307.97 900.48,305.07 901.29,302.09 902.10,299.04 902.91,295.91 903.72,292.68 904.54,289.37 905.35,285.96 906.16,282.45 906.97,278.85 907.78,275.15 908.60,271.35 909.41,267.46 910.22,263.49 911.03,259.42 911.84,255.28 912.66,251.07 913.47,246.79 914.28,242.46 915.09,238.09 915.90,233.68 916.72,229.25 917.53,224.81 918.34,220.38 919.15,215.97 919.96,211.59 920.78,207.25 921.59,202.98 922.40,198.77 923.21,194.66 924.02,190.64 924.84,186.74 925.65,182.96 926.46,179.32 927.27,175.83 928.08,172.49 928.90,169.32 929.71,166.32 930.52,163.51 931.33,160.88 932.14,158.45 932.96,156.21 933.77,154.18 934.58,152.34 935.39,150.71 936.20,149.27 937.02,148.04 937.83,147.00 938.64,146.16 939.45,145.50 940.26,145.03 941.08,144.74 941.89,144.62 942.70,144.67 943.51,144.87 944.32,145.22 945.14,145.72 945.95,146.34 946.76,147.09 947.57,147.96 948.38,148.94 949.20,150.01 950.01,151.17 950.82,152.42 951.63,153.75 952.45,155.14 953.26,156.60 954.07,158.12 954.88,159.69 955.69,161.31 956.51,162.97 957.32,164.68 958.13,166.42 958.94,168.21 959.75,170.03 960.57,171.89 961.38,173.79 962.19,175.72 963.00,177.70 963.81,179.72 964.63,181.78 965.44,183.89 966.25,186.05 967.06,188.25 967.87,190.51 968.69,192.83 969.50,195.20 970.31,197.63 971.12,200.12 971.93,202.67 972.75,205.29 973.56,207.97 974.37,210.70 975.18,213.50 975.99,216.36 976.81,219.28 977.62,222.25 978.43,225.28 979.24,228.36 980.05,231.48 980.87,234.64 981.68,237.84 982.49,241.07 983.30,244.34 984.11,247.62 984.93,250.93 985.74,254.24 986.55,257.57 987.36,260.90 988.17,264.23 988.99,267.56 989.80,270.88 990.61,274.18 991.42,277.47 992.23,280.73 993.05,283.98 993.86,287.20 994.67,290.39 995.48,293.55 996.29,296.69 997.11,299.79 997.92,302.86 998.73,305.90 999.54,308.91 1000.35,311.89 1001.17,314.83 1001.98,317.75 1002.79,320.63 1003.60,323.49 1004.42,326.32 1005.23,329.12 1006.04,331.90 1006.85,334.65 1007.66,337.38 1008.48,340.08 1009.29,342.76 1010.10,345.42 1010.91,348.05 1011.72,350.66 1012.54,353.25 1013.35,355.81 1014.16,358.34 1014.97,360.84 1015.78,363.31 1016.60,365.74 1017.41,368.14 1018.22,370.50 1019.03,372.81 1019.84,375.08 1020.66,377.29 1021.47,379.46 1022.28,381.57 1023.09,383.62 1023.90,385.60 1024.72,387.53 1025.53,389.39 1026.34,391.18 1027.15,392.90 1027.96,394.56 1028.78,396.14 1029.59,397.66 1030.40,399.11 1031.21,400.49 1032.02,401.82 1032.84,403.08 1033.65,404.29 1034.46,405.44 1035.27,406.55 1036.08,407.61 1036.90,408.64 1037.71,409.64 1038.52,410.61 1039.33,411.57 1040.14,412.51 1040.96,413.44 1041.77,414.37 1042.58,415.31 1043.39,416.26 1044.20,417.22 1045.02,418.19 1045.83,419.20 1046.64,420.23 1047.45,421.28 1048.26,422.38 1049.08,423.50 1049.89,424.66 1050.70,425.86 1051.51,427.09 1052.32,428.36 1053.14,429.66 1053.95,430.99 1054.76,432.36 1055.57,433.75 1056.38,435.17 1057.20,436.61 1058.01,438.07 1058.82,439.54 1059.63,441.02 1060.45,442.51 1061.26,444.00 1062.07,445.49 1062.88,446.97 1063.69,448.44 1064.51,449.90 1065.32,451.34 1066.13,452.76 1066.94,454.15 1067.75,455.52 1068.57,456.85 1069.38,458.16 1070.19,459.43 1071.00,460.66 1071.81,461.85 1072.63,463.01 1073.44,464.12 1074.25,465.20 1075.06,466.23 1075.87,467.22 1076.69,468.17 1077.50,469.07 1078.31,469.94 1079.12,470.77 1079.93,471.55 1080.75,472.30 1081.56,473.01 1082.37,473.68 1083.18,474.32 1083.99,474.93 1084.81,475.50 1085.62,476.04 1086.43,476.55 1087.24,477.03 1088.05,477.49 1088.87,477.92 1089.68,478.32 1090.49,478.70 1091.30,479.06 1092.11,479.40 1092.93,479.72 1093.74,480.03 1094.55,480.31 1095.36,480.58 1096.17,480.83 1096.99,481.07 1097.80,481.30 1098.61,481.51 1099.42,481.72 1100.23,481.91 1101.05,482.09 1101.86,482.26 1102.67,482.42 1103.48,482.57 1104.29,482.71 1105.11,482.84 1105.92,482.97 1106.73,483.08 1107.54,483.19 1108.35,483.29 1109.17,483.39 1109.98,483.47 1110.79,483.55 1111.60,483.63 1112.42,483.69 1113.23,483.75 1114.04,483.80 1114.85,483.85 1115.66,483.89 1116.48,483.92 1117.29,483.95 1118.10,483.98 1118.91,484.00 1119.72,484.01 1120.54,484.02 1121.35,484.03 1122.16,484.03 1122.97,484.04 1123.78,484.04 1124.60,484.03 1125.41,484.03 1126.22,484.03 1127.03,484.03 1127.84,484.03 1128.66,484.03 1129.47,484.04 1130.28,484.04 1131.09,484.05 1131.90,484.06 1132.72,484.08 1133.53,484.10 1134.34,484.13 1135.15,484.15 1135.96,484.19 1136.78,484.22 1137.59,484.27 1138.40,484.31" fill="none" stroke="#1f77b4" stroke-width="2.25" stroke-linejoin="round" stroke-linecap="square"/>
</g>
<line x1="731.7" y1="28.3" x2="731.7" y2="486.0" stroke="#000" stroke-width="1.3" stroke-linecap="square"/>
<line x1="731.7" y1="486.0" x2="1318.88" y2="486.0" stroke="#000" stroke-width="1.3" stroke-linecap="square"/>
<line x1="726.40" y1="486.00" x2="731.7" y2="486.00" stroke="#000" stroke-width="1.3"/>
<text transform="translate(720.50,492.00) scale(1,1)" text-anchor="end" font-size="14.7">0</text>
<line x1="726.40" y1="432.20" x2="731.7" y2="432.20" stroke="#000" stroke-width="1.3"/>
<text transform="translate(720.50,438.20) scale(1,1)" text-anchor="end" font-size="14.7">10</text>
<line x1="726.40" y1="378.40" x2="731.7" y2="378.40" stroke="#000" stroke-width="1.3"/>
<text transform="translate(720.50,384.40) scale(1,1)" text-anchor="end" font-size="14.7">20</text>
<line x1="726.40" y1="324.60" x2="731.7" y2="324.60" stroke="#000" stroke-width="1.3"/>
<text transform="translate(720.50,330.60) scale(1,1)" text-anchor="end" font-size="14.7">30</text>
<line x1="726.40" y1="270.80" x2="731.7" y2="270.80" stroke="#000" stroke-width="1.3"/>
<text transform="translate(720.50,276.80) scale(1,1)" text-anchor="end" font-size="14.7">40</text>
<line x1="726.40" y1="217.00" x2="731.7" y2="217.00" stroke="#000" stroke-width="1.3"/>
<text transform="translate(720.50,223.00) scale(1,1)" text-anchor="end" font-size="14.7">50</text>
<line x1="726.40" y1="163.20" x2="731.7" y2="163.20" stroke="#000" stroke-width="1.3"/>
<text transform="translate(720.50,169.20) scale(1,1)" text-anchor="end" font-size="14.7">60</text>
<line x1="726.40" y1="109.40" x2="731.7" y2="109.40" stroke="#000" stroke-width="1.3"/>
<text transform="translate(720.50,115.40) scale(1,1)" text-anchor="end" font-size="14.7">70</text>
<line x1="726.40" y1="55.60" x2="731.7" y2="55.60" stroke="#000" stroke-width="1.3"/>
<text transform="translate(720.50,61.60) scale(1,1)" text-anchor="end" font-size="14.7">80</text>
<line x1="731.70" y1="486.0" x2="731.70" y2="491.30" stroke="#000" stroke-width="1.3"/>
<text transform="translate(731.70,508.00) scale(1,1)" text-anchor="middle" font-size="14.4">0</text>
<line x1="809.99" y1="486.0" x2="809.99" y2="491.30" stroke="#000" stroke-width="1.3"/>
<text transform="translate(809.99,508.00) scale(1,1)" text-anchor="middle" font-size="14.4">10</text>
<line x1="888.28" y1="486.0" x2="888.28" y2="491.30" stroke="#000" stroke-width="1.3"/>
<text transform="translate(888.28,508.00) scale(1,1)" text-anchor="middle" font-size="14.4">20</text>
<line x1="966.57" y1="486.0" x2="966.57" y2="491.30" stroke="#000" stroke-width="1.3"/>
<text transform="translate(966.57,508.00) scale(1,1)" text-anchor="middle" font-size="14.4">30</text>
<line x1="1044.86" y1="486.0" x2="1044.86" y2="491.30" stroke="#000" stroke-width="1.3"/>
<text transform="translate(1044.86,508.00) scale(1,1)" text-anchor="middle" font-size="14.4">40</text>
<line x1="1123.15" y1="486.0" x2="1123.15" y2="491.30" stroke="#000" stroke-width="1.3"/>
<text transform="translate(1123.15,508.00) scale(1,1)" text-anchor="middle" font-size="14.4">50</text>
<line x1="1201.44" y1="486.0" x2="1201.44" y2="491.30" stroke="#000" stroke-width="1.3"/>
<text transform="translate(1201.44,508.00) scale(1,1)" text-anchor="middle" font-size="14.4">60</text>
<line x1="1279.73" y1="486.0" x2="1279.73" y2="491.30" stroke="#000" stroke-width="1.3"/>
<text transform="translate(1279.73,508.00) scale(1,1)" text-anchor="middle" font-size="14.4">70</text>
<text x="1024.09" y="19.3" text-anchor="middle" font-size="18">ZUCK_p_VIS03</text>
<text transform="translate(692.2,258.4) rotate(-90)" text-anchor="middle" font-size="14.7">Count</text>
<rect x="1206.10" y="241.30" width="29.40" height="11.00" rx="1" fill="#8fbbd9" stroke="#000" stroke-width="1.3"/>
<text x="1247.10" y="251.80" font-size="15.2">Real Data</text>
<rect x="1206.10" y="263.50" width="29.40" height="9.90" rx="1" fill="#ffbf86" stroke="#000" stroke-width="1.3"/>
<text x="1247.10" y="272.40" font-size="15.2" letter-spacing="-0.4">VAMBN-FT</text>
<clipPath id="cVAMBNMT"><rect x="1409.6" y="31.6" width="587.78" height="454.80"/></clipPath>
<g clip-path="url(#cVAMBNMT)">
<rect x="1492.90" y="481.05" width="11.61" height="5.35" fill="#ffbf86" stroke="#000" stroke-width="1.2"/>
<rect x="1504.51" y="470.36" width="11.61" height="16.04" fill="#ffbf86" stroke="#000" stroke-width="1.2"/>
<rect x="1516.13" y="448.97" width="11.61" height="37.43" fill="#ffbf86" stroke="#000" stroke-width="1.2"/>
<rect x="1527.74" y="422.23" width="11.61" height="64.17" fill="#ffbf86" stroke="#000" stroke-width="1.2"/>
<rect x="1539.36" y="411.53" width="11.61" height="74.87" fill="#ffbf86" stroke="#000" stroke-width="1.2"/>
<rect x="1550.97" y="283.19" width="11.61" height="203.21" fill="#ffbf86" stroke="#000" stroke-width="1.2"/>
<rect x="1562.58" y="251.11" width="11.61" height="235.29" fill="#ffbf86" stroke="#000" stroke-width="1.2"/>
<rect x="1574.20" y="267.15" width="11.61" height="219.25" fill="#ffbf86" stroke="#000" stroke-width="1.2"/>
<rect x="1585.81" y="213.68" width="11.61" height="272.72" fill="#ffbf86" stroke="#000" stroke-width="1.2"/>
<rect x="1597.43" y="122.77" width="11.61" height="363.63" fill="#ffbf86" stroke="#000" stroke-width="1.2"/>
<rect x="1609.04" y="165.55" width="11.61" height="320.85" fill="#ffbf86" stroke="#000" stroke-width="1.2"/>
<rect x="1620.65" y="63.95" width="11.61" height="422.45" fill="#ffbf86" stroke="#000" stroke-width="1.2"/>
<rect x="1632.27" y="240.41" width="11.61" height="245.99" fill="#ffbf86" stroke="#000" stroke-width="1.2"/>
<rect x="1643.88" y="229.72" width="11.61" height="256.68" fill="#ffbf86" stroke="#000" stroke-width="1.2"/>
<rect x="1655.50" y="272.50" width="11.61" height="213.90" fill="#ffbf86" stroke="#000" stroke-width="1.2"/>
<rect x="1667.11" y="272.50" width="11.61" height="213.90" fill="#ffbf86" stroke="#000" stroke-width="1.2"/>
<rect x="1678.72" y="390.14" width="11.61" height="96.25" fill="#ffbf86" stroke="#000" stroke-width="1.2"/>
<rect x="1690.34" y="400.84" width="11.61" height="85.56" fill="#ffbf86" stroke="#000" stroke-width="1.2"/>
<rect x="1701.95" y="379.45" width="11.61" height="106.95" fill="#ffbf86" stroke="#000" stroke-width="1.2"/>
<rect x="1713.57" y="459.66" width="11.61" height="26.74" fill="#ffbf86" stroke="#000" stroke-width="1.2"/>
<rect x="1725.18" y="448.97" width="11.61" height="37.43" fill="#ffbf86" stroke="#000" stroke-width="1.2"/>
<rect x="1736.79" y="432.92" width="11.61" height="53.48" fill="#ffbf86" stroke="#000" stroke-width="1.2"/>
<rect x="1748.41" y="438.27" width="11.61" height="48.13" fill="#ffbf86" stroke="#000" stroke-width="1.2"/>
<rect x="1760.02" y="481.05" width="11.61" height="5.35" fill="#ffbf86" stroke="#000" stroke-width="1.2"/>
<rect x="1771.64" y="481.05" width="11.61" height="5.35" fill="#ffbf86" stroke="#000" stroke-width="1.2"/>
<rect x="1783.25" y="459.66" width="11.61" height="26.74" fill="#ffbf86" stroke="#000" stroke-width="1.2"/>
<rect x="1794.86" y="481.05" width="11.61" height="5.35" fill="#ffbf86" stroke="#000" stroke-width="1.2"/>
<rect x="1841.32" y="475.70" width="11.61" height="10.70" fill="#ffbf86" stroke="#000" stroke-width="1.2"/>
<rect x="1992.30" y="481.05" width="11.61" height="5.35" fill="#ffbf86" stroke="#000" stroke-width="1.2"/>
<rect x="1492.90" y="481.05" width="11.61" height="5.35" fill="rgba(31,119,180,0.5)" stroke="#000" stroke-width="1.2"/>
<rect x="1504.51" y="470.36" width="11.61" height="16.04" fill="rgba(31,119,180,0.5)" stroke="#000" stroke-width="1.2"/>
<rect x="1516.13" y="470.36" width="11.61" height="16.04" fill="rgba(31,119,180,0.5)" stroke="#000" stroke-width="1.2"/>
<rect x="1527.74" y="448.97" width="11.61" height="37.43" fill="rgba(31,119,180,0.5)" stroke="#000" stroke-width="1.2"/>
<rect x="1539.36" y="390.14" width="11.61" height="96.25" fill="rgba(31,119,180,0.5)" stroke="#000" stroke-width="1.2"/>
<rect x="1550.97" y="416.88" width="11.61" height="69.52" fill="rgba(31,119,180,0.5)" stroke="#000" stroke-width="1.2"/>
<rect x="1562.58" y="283.19" width="11.61" height="203.21" fill="rgba(31,119,180,0.5)" stroke="#000" stroke-width="1.2"/>
<rect x="1574.20" y="325.97" width="11.61" height="160.43" fill="rgba(31,119,180,0.5)" stroke="#000" stroke-width="1.2"/>
<rect x="1585.81" y="267.15" width="11.61" height="219.25" fill="rgba(31,119,180,0.5)" stroke="#000" stroke-width="1.2"/>
<rect x="1597.43" y="128.12" width="11.61" height="358.28" fill="rgba(31,119,180,0.5)" stroke="#000" stroke-width="1.2"/>
<rect x="1609.04" y="90.68" width="11.61" height="395.72" fill="rgba(31,119,180,0.5)" stroke="#000" stroke-width="1.2"/>
<rect x="1620.65" y="101.38" width="11.61" height="385.02" fill="rgba(31,119,180,0.5)" stroke="#000" stroke-width="1.2"/>
<rect x="1632.27" y="170.90" width="11.61" height="315.50" fill="rgba(31,119,180,0.5)" stroke="#000" stroke-width="1.2"/>
<rect x="1643.88" y="149.51" width="11.61" height="336.89" fill="rgba(31,119,180,0.5)" stroke="#000" stroke-width="1.2"/>
<rect x="1655.50" y="213.68" width="11.61" height="272.72" fill="rgba(31,119,180,0.5)" stroke="#000" stroke-width="1.2"/>
<rect x="1667.11" y="299.24" width="11.61" height="187.16" fill="rgba(31,119,180,0.5)" stroke="#000" stroke-width="1.2"/>
<rect x="1678.72" y="320.63" width="11.61" height="165.77" fill="rgba(31,119,180,0.5)" stroke="#000" stroke-width="1.2"/>
<rect x="1690.34" y="347.37" width="11.61" height="139.03" fill="rgba(31,119,180,0.5)" stroke="#000" stroke-width="1.2"/>
<rect x="1701.95" y="416.88" width="11.61" height="69.52" fill="rgba(31,119,180,0.5)" stroke="#000" stroke-width="1.2"/>
<rect x="1713.57" y="395.49" width="11.61" height="90.91" fill="rgba(31,119,180,0.5)" stroke="#000" stroke-width="1.2"/>
<rect x="1725.18" y="416.88" width="11.61" height="69.52" fill="rgba(31,119,180,0.5)" stroke="#000" stroke-width="1.2"/>
<rect x="1736.79" y="454.31" width="11.61" height="32.09" fill="rgba(31,119,180,0.5)" stroke="#000" stroke-width="1.2"/>
<rect x="1748.41" y="470.36" width="11.61" height="16.04" fill="rgba(31,119,180,0.5)" stroke="#000" stroke-width="1.2"/>
<rect x="1760.02" y="481.05" width="11.61" height="5.35" fill="rgba(31,119,180,0.5)" stroke="#000" stroke-width="1.2"/>
<rect x="1783.25" y="481.05" width="11.61" height="5.35" fill="rgba(31,119,180,0.5)" stroke="#000" stroke-width="1.2"/>
<rect x="1806.48" y="481.05" width="11.61" height="5.35" fill="rgba(31,119,180,0.5)" stroke="#000" stroke-width="1.2"/>
<polyline points="1492.90,479.74 1494.18,478.94 1495.46,478.07 1496.74,477.12 1498.02,476.11 1499.30,475.03 1500.58,473.87 1501.87,472.64 1503.15,471.33 1504.43,469.94 1505.71,468.48 1506.99,466.93 1508.27,465.30 1509.55,463.60 1510.83,461.81 1512.11,459.93 1513.39,457.98 1514.67,455.94 1515.95,453.81 1517.23,451.59 1518.51,449.28 1519.80,446.87 1521.08,444.36 1522.36,441.73 1523.64,438.99 1524.92,436.12 1526.20,433.11 1527.48,429.95 1528.76,426.64 1530.04,423.14 1531.32,419.47 1532.60,415.60 1533.88,411.52 1535.16,407.24 1536.45,402.73 1537.73,398.01 1539.01,393.07 1540.29,387.92 1541.57,382.57 1542.85,377.04 1544.13,371.34 1545.41,365.50 1546.69,359.55 1547.97,353.51 1549.25,347.43 1550.53,341.33 1551.81,335.26 1553.09,329.24 1554.38,323.32 1555.66,317.52 1556.94,311.87 1558.22,306.40 1559.50,301.13 1560.78,296.05 1562.06,291.20 1563.34,286.55 1564.62,282.11 1565.90,277.87 1567.18,273.81 1568.46,269.90 1569.74,266.13 1571.03,262.45 1572.31,258.85 1573.59,255.29 1574.87,251.75 1576.15,248.19 1577.43,244.58 1578.71,240.92 1579.99,237.17 1581.27,233.32 1582.55,229.38 1583.83,225.33 1585.11,221.18 1586.39,216.94 1587.67,212.62 1588.96,208.24 1590.24,203.81 1591.52,199.37 1592.80,194.94 1594.08,190.55 1595.36,186.22 1596.64,181.98 1597.92,177.86 1599.20,173.89 1600.48,170.08 1601.76,166.46 1603.04,163.05 1604.32,159.87 1605.61,156.94 1606.89,154.27 1608.17,151.88 1609.45,149.79 1610.73,148.02 1612.01,146.58 1613.29,145.49 1614.57,144.76 1615.85,144.41 1617.13,144.46 1618.41,144.92 1619.69,145.79 1620.97,147.07 1622.25,148.78 1623.54,150.90 1624.82,153.43 1626.10,156.34 1627.38,159.62 1628.66,163.23 1629.94,167.14 1631.22,171.31 1632.50,175.70 1633.78,180.27 1635.06,184.97 1636.34,189.76 1637.62,194.59 1638.90,199.43 1640.19,204.24 1641.47,209.00 1642.75,213.67 1644.03,218.24 1645.31,222.70 1646.59,227.05 1647.87,231.27 1649.15,235.39 1650.43,239.41 1651.71,243.34 1652.99,247.21 1654.27,251.03 1655.55,254.83 1656.83,258.62 1658.12,262.44 1659.40,266.30 1660.68,270.23 1661.96,274.24 1663.24,278.34 1664.52,282.56 1665.80,286.89 1667.08,291.34 1668.36,295.90 1669.64,300.58 1670.92,305.36 1672.20,310.23 1673.48,315.16 1674.77,320.13 1676.05,325.13 1677.33,330.11 1678.61,335.06 1679.89,339.93 1681.17,344.72 1682.45,349.38 1683.73,353.90 1685.01,358.26 1686.29,362.45 1687.57,366.44 1688.85,370.25 1690.13,373.86 1691.41,377.29 1692.70,380.54 1693.98,383.63 1695.26,386.57 1696.54,389.38 1697.82,392.09 1699.10,394.71 1700.38,397.26 1701.66,399.76 1702.94,402.22 1704.22,404.66 1705.50,407.09 1706.78,409.50 1708.06,411.90 1709.35,414.29 1710.63,416.65 1711.91,418.97 1713.19,421.25 1714.47,423.47 1715.75,425.60 1717.03,427.64 1718.31,429.57 1719.59,431.37 1720.87,433.04 1722.15,434.56 1723.43,435.92 1724.71,437.14 1726.00,438.21 1727.28,439.13 1728.56,439.92 1729.84,440.59 1731.12,441.15 1732.40,441.62 1733.68,442.03 1734.96,442.39 1736.24,442.72 1737.52,443.06 1738.80,443.41 1740.08,443.79 1741.36,444.23 1742.64,444.74 1743.93,445.33 1745.21,446.01 1746.49,446.79 1747.77,447.67 1749.05,448.64 1750.33,449.71 1751.61,450.87 1752.89,452.11 1754.17,453.41 1755.45,454.77 1756.73,456.16 1758.01,457.57 1759.29,458.98 1760.58,460.38 1761.86,461.75 1763.14,463.06 1764.42,464.31 1765.70,465.49 1766.98,466.58 1768.26,467.58 1769.54,468.48 1770.82,469.28 1772.10,469.98 1773.38,470.59 1774.66,471.11 1775.94,471.54 1777.22,471.91 1778.51,472.22 1779.79,472.48 1781.07,472.71 1782.35,472.91 1783.63,473.11 1784.91,473.31 1786.19,473.53 1787.47,473.77 1788.75,474.03 1790.03,474.34 1791.31,474.68 1792.59,475.07 1793.87,475.49 1795.16,475.95 1796.44,476.45 1797.72,476.98 1799.00,477.53 1800.28,478.10 1801.56,478.68 1802.84,479.26 1804.12,479.84 1805.40,480.40 1806.68,480.95 1807.96,481.47 1809.24,481.96 1810.52,482.42 1811.80,482.84 1813.09,483.22 1814.37,483.55 1815.65,483.84 1816.93,484.08 1818.21,484.28 1819.49,484.44 1820.77,484.55 1822.05,484.62 1823.33,484.65 1824.61,484.64 1825.89,484.60 1827.17,484.53 1828.45,484.43 1829.74,484.31 1831.02,484.18 1832.30,484.03 1833.58,483.88 1834.86,483.72 1836.14,483.56 1837.42,483.41 1838.70,483.27 1839.98,483.15 1841.26,483.04 1842.54,482.96 1843.82,482.90 1845.10,482.88 1846.38,482.87 1847.67,482.90 1848.95,482.95 1850.23,483.03 1851.51,483.14 1852.79,483.27 1854.07,483.42 1855.35,483.58 1856.63,483.76 1857.91,483.95 1859.19,484.14 1860.47,484.33 1861.75,484.52 1863.03,484.71 1864.32,484.90 1865.60,485.07 1866.88,485.23 1868.16,485.39 1869.44,485.53 1870.72,485.65 1872.00,485.77 1873.28,485.87 1874.56,485.95 1875.84,486.03 1877.12,486.10 1878.40,486.15 1879.68,486.20 1880.96,486.24 1882.25,486.27 1883.53,486.30 1884.81,486.32 1886.09,486.34 1887.37,486.35 1888.65,486.37 1889.93,486.37 1891.21,486.38 1892.49,486.39 1893.77,486.39 1895.05,486.39 1896.33,486.39 1897.61,486.40 1898.90,486.40 1900.18,486.40 1901.46,486.40 1902.74,486.40 1904.02,486.40 1905.30,486.40 1906.58,486.40 1907.86,486.40 1909.14,486.40 1910.42,486.40 1911.70,486.40 1912.98,486.40 1914.26,486.40 1915.54,486.40 1916.83,486.40 1918.11,486.40 1919.39,486.40 1920.67,486.40 1921.95,486.40 1923.23,486.40 1924.51,486.40 1925.79,486.40 1927.07,486.40 1928.35,486.40 1929.63,486.40 1930.91,486.40 1932.19,486.40 1933.48,486.40 1934.76,486.40 1936.04,486.40 1937.32,486.40 1938.60,486.40 1939.88,486.40 1941.16,486.40 1942.44,486.40 1943.72,486.40 1945.00,486.40 1946.28,486.40 1947.56,486.40 1948.84,486.40 1950.12,486.39 1951.41,486.39 1952.69,486.39 1953.97,486.39 1955.25,486.38 1956.53,486.38 1957.81,486.37 1959.09,486.36 1960.37,486.35 1961.65,486.33 1962.93,486.31 1964.21,486.29 1965.49,486.27 1966.77,486.24 1968.06,486.20 1969.34,486.16 1970.62,486.11 1971.90,486.06 1973.18,485.99 1974.46,485.93 1975.74,485.85 1977.02,485.77 1978.30,485.68 1979.58,485.59 1980.86,485.49 1982.14,485.39 1983.42,485.29 1984.70,485.19 1985.99,485.09 1987.27,484.99 1988.55,484.90 1989.83,484.82 1991.11,484.75 1992.39,484.70 1993.67,484.65 1994.95,484.62 1996.23,484.60 1997.51,484.60 1998.79,484.62 2000.07,484.65 2001.35,484.69 2002.64,484.75 2003.92,484.82" fill="none" stroke="#ff7f0e" stroke-width="2.25" stroke-linejoin="round" stroke-linecap="square"/>
<polyline points="1492.90,480.98 1494.18,480.41 1495.46,479.82 1496.74,479.20 1498.02,478.56 1499.30,477.88 1500.58,477.18 1501.87,476.45 1503.15,475.68 1504.43,474.88 1505.71,474.04 1506.99,473.16 1508.27,472.23 1509.55,471.24 1510.83,470.18 1512.11,469.06 1513.39,467.85 1514.67,466.56 1515.95,465.17 1517.23,463.67 1518.51,462.07 1519.80,460.35 1521.08,458.51 1522.36,456.54 1523.64,454.45 1524.92,452.24 1526.20,449.90 1527.48,447.44 1528.76,444.87 1530.04,442.18 1531.32,439.39 1532.60,436.51 1533.88,433.53 1535.16,430.46 1536.45,427.32 1537.73,424.10 1539.01,420.81 1540.29,417.45 1541.57,414.01 1542.85,410.51 1544.13,406.93 1545.41,403.29 1546.69,399.56 1547.97,395.76 1549.25,391.88 1550.53,387.93 1551.81,383.90 1553.09,379.81 1554.38,375.65 1555.66,371.43 1556.94,367.17 1558.22,362.87 1559.50,358.56 1560.78,354.23 1562.06,349.90 1563.34,345.57 1564.62,341.26 1565.90,336.97 1567.18,332.70 1568.46,328.43 1569.74,324.16 1571.03,319.88 1572.31,315.56 1573.59,311.19 1574.87,306.73 1576.15,302.16 1577.43,297.45 1578.71,292.58 1579.99,287.51 1581.27,282.22 1582.55,276.70 1583.83,270.93 1585.11,264.91 1586.39,258.62 1587.67,252.09 1588.96,245.32 1590.24,238.34 1591.52,231.18 1592.80,223.88 1594.08,216.47 1595.36,209.02 1596.64,201.56 1597.92,194.16 1599.20,186.88 1600.48,179.77 1601.76,172.89 1603.04,166.30 1604.32,160.04 1605.61,154.16 1606.89,148.71 1608.17,143.72 1609.45,139.21 1610.73,135.22 1612.01,131.75 1613.29,128.81 1614.57,126.41 1615.85,124.53 1617.13,123.17 1618.41,122.30 1619.69,121.91 1620.97,121.96 1622.25,122.42 1623.54,123.27 1624.82,124.45 1626.10,125.95 1627.38,127.72 1628.66,129.73 1629.94,131.95 1631.22,134.36 1632.50,136.92 1633.78,139.61 1635.06,142.43 1636.34,145.35 1637.62,148.38 1638.90,151.51 1640.19,154.73 1641.47,158.07 1642.75,161.51 1644.03,165.08 1645.31,168.78 1646.59,172.62 1647.87,176.61 1649.15,180.76 1650.43,185.07 1651.71,189.54 1652.99,194.18 1654.27,198.98 1655.55,203.93 1656.83,209.02 1658.12,214.24 1659.40,219.58 1660.68,225.00 1661.96,230.50 1663.24,236.06 1664.52,241.65 1665.80,247.25 1667.08,252.85 1668.36,258.43 1669.64,263.97 1670.92,269.45 1672.20,274.87 1673.48,280.22 1674.77,285.48 1676.05,290.67 1677.33,295.77 1678.61,300.79 1679.89,305.72 1681.17,310.58 1682.45,315.36 1683.73,320.07 1685.01,324.71 1686.29,329.29 1687.57,333.81 1688.85,338.26 1690.13,342.66 1691.41,346.98 1692.70,351.23 1693.98,355.40 1695.26,359.48 1696.54,363.45 1697.82,367.31 1699.10,371.04 1700.38,374.62 1701.66,378.06 1702.94,381.32 1704.22,384.41 1705.50,387.32 1706.78,390.05 1708.06,392.60 1709.35,394.97 1710.63,397.17 1711.91,399.22 1713.19,401.14 1714.47,402.94 1715.75,404.64 1717.03,406.28 1718.31,407.87 1719.59,409.44 1720.87,411.01 1722.15,412.61 1723.43,414.25 1724.71,415.96 1726.00,417.75 1727.28,419.63 1728.56,421.59 1729.84,423.66 1731.12,425.81 1732.40,428.06 1733.68,430.38 1734.96,432.77 1736.24,435.21 1737.52,437.70 1738.80,440.20 1740.08,442.70 1741.36,445.20 1742.64,447.66 1743.93,450.07 1745.21,452.43 1746.49,454.72 1747.77,456.91 1749.05,459.02 1750.33,461.03 1751.61,462.93 1752.89,464.72 1754.17,466.40 1755.45,467.97 1756.73,469.44 1758.01,470.79 1759.29,472.05 1760.58,473.20 1761.86,474.26 1763.14,475.24 1764.42,476.13 1765.70,476.94 1766.98,477.68 1768.26,478.36 1769.54,478.98 1770.82,479.54 1772.10,480.06 1773.38,480.53 1774.66,480.95 1775.94,481.34 1777.22,481.70 1778.51,482.03 1779.79,482.32 1781.07,482.60 1782.35,482.84 1783.63,483.07 1784.91,483.27 1786.19,483.45 1787.47,483.61 1788.75,483.75 1790.03,483.88 1791.31,483.98 1792.59,484.07 1793.87,484.14 1795.16,484.20 1796.44,484.24 1797.72,484.27 1799.00,484.29 1800.28,484.30 1801.56,484.30 1802.84,484.30 1804.12,484.30 1805.40,484.30 1806.68,484.30 1807.96,484.30 1809.24,484.32 1810.52,484.34 1811.80,484.37 1813.09,484.41 1814.37,484.47 1815.65,484.53 1816.93,484.61 1818.21,484.69 1819.49,484.79 1820.77,484.89 1822.05,484.99 1823.33,485.10 1824.61,485.21 1825.89,485.32 1827.17,485.43 1828.45,485.54 1829.74,485.64 1831.02,485.73 1832.30,485.82 1833.58,485.90 1834.86,485.97 1836.14,486.04 1837.42,486.10 1838.70,486.15 1839.98,486.19 1841.26,486.23 1842.54,486.26 1843.82,486.29 1845.10,486.31 1846.38,486.33 1847.67,486.35 1848.95,486.36 1850.23,486.37 1851.51,486.38 1852.79,486.38 1854.07,486.39 1855.35,486.39 1856.63,486.39 1857.91,486.39 1859.19,486.40 1860.47,486.40 1861.75,486.40 1863.03,486.40 1864.32,486.40 1865.60,486.40 1866.88,486.40 1868.16,486.40 1869.44,486.40 1870.72,486.40 1872.00,486.40 1873.28,486.40 1874.56,486.40 1875.84,486.40 1877.12,486.40 1878.40,486.40 1879.68,486.40 1880.96,486.40 1882.25,486.40 1883.53,486.40 1884.81,486.40 1886.09,486.40 1887.37,486.40 1888.65,486.40 1889.93,486.40 1891.21,486.40 1892.49,486.40 1893.77,486.40 1895.05,486.40 1896.33,486.40 1897.61,486.40 1898.90,486.40 1900.18,486.40 1901.46,486.40 1902.74,486.40 1904.02,486.40 1905.30,486.40 1906.58,486.40 1907.86,486.40 1909.14,486.40 1910.42,486.40 1911.70,486.40 1912.98,486.40 1914.26,486.40 1915.54,486.40 1916.83,486.40 1918.11,486.40 1919.39,486.40 1920.67,486.40 1921.95,486.40 1923.23,486.40 1924.51,486.40 1925.79,486.40 1927.07,486.40 1928.35,486.40 1929.63,486.40 1930.91,486.40 1932.19,486.40 1933.48,486.40 1934.76,486.40 1936.04,486.40 1937.32,486.40 1938.60,486.40 1939.88,486.40 1941.16,486.40 1942.44,486.40 1943.72,486.40 1945.00,486.40 1946.28,486.40 1947.56,486.40 1948.84,486.40 1950.12,486.40 1951.41,486.40 1952.69,486.40 1953.97,486.40 1955.25,486.40 1956.53,486.40 1957.81,486.40 1959.09,486.40 1960.37,486.40 1961.65,486.40 1962.93,486.40 1964.21,486.40 1965.49,486.40 1966.77,486.40 1968.06,486.40 1969.34,486.40 1970.62,486.40 1971.90,486.40 1973.18,486.40 1974.46,486.40 1975.74,486.40 1977.02,486.40 1978.30,486.40 1979.58,486.40 1980.86,486.40 1982.14,486.40 1983.42,486.40 1984.70,486.40 1985.99,486.40 1987.27,486.40 1988.55,486.40 1989.83,486.40 1991.11,486.40 1992.39,486.40 1993.67,486.40 1994.95,486.40 1996.23,486.40 1997.51,486.40 1998.79,486.40 2000.07,486.40 2001.35,486.40 2002.64,486.40 2003.92,486.40" fill="none" stroke="#1f77b4" stroke-width="2.25" stroke-linejoin="round" stroke-linecap="square"/>
</g>
<line x1="1409.6" y1="31.6" x2="1409.6" y2="486.4" stroke="#000" stroke-width="1.3" stroke-linecap="square"/>
<line x1="1409.6" y1="486.4" x2="1997.38" y2="486.4" stroke="#000" stroke-width="1.3" stroke-linecap="square"/>
<line x1="1404.30" y1="486.40" x2="1409.6" y2="486.40" stroke="#000" stroke-width="1.3"/>
<text transform="translate(1398.40,492.40) scale(1,1)" text-anchor="end" font-size="14.7">0</text>
<line x1="1404.30" y1="432.92" x2="1409.6" y2="432.92" stroke="#000" stroke-width="1.3"/>
<text transform="translate(1398.40,438.92) scale(1,1)" text-anchor="end" font-size="14.7">10</text>
<line x1="1404.30" y1="379.45" x2="1409.6" y2="379.45" stroke="#000" stroke-width="1.3"/>
<text transform="translate(1398.40,385.45) scale(1,1)" text-anchor="end" font-size="14.7">20</text>
<line x1="1404.30" y1="325.97" x2="1409.6" y2="325.97" stroke="#000" stroke-width="1.3"/>
<text transform="translate(1398.40,331.97) scale(1,1)" text-anchor="end" font-size="14.7">30</text>
<line x1="1404.30" y1="272.50" x2="1409.6" y2="272.50" stroke="#000" stroke-width="1.3"/>
<text transform="translate(1398.40,278.50) scale(1,1)" text-anchor="end" font-size="14.7">40</text>
<line x1="1404.30" y1="219.02" x2="1409.6" y2="219.02" stroke="#000" stroke-width="1.3"/>
<text transform="translate(1398.40,225.02) scale(1,1)" text-anchor="end" font-size="14.7">50</text>
<line x1="1404.30" y1="165.55" x2="1409.6" y2="165.55" stroke="#000" stroke-width="1.3"/>
<text transform="translate(1398.40,171.55) scale(1,1)" text-anchor="end" font-size="14.7">60</text>
<line x1="1404.30" y1="112.07" x2="1409.6" y2="112.07" stroke="#000" stroke-width="1.3"/>
<text transform="translate(1398.40,118.07) scale(1,1)" text-anchor="end" font-size="14.7">70</text>
<line x1="1404.30" y1="58.60" x2="1409.6" y2="58.60" stroke="#000" stroke-width="1.3"/>
<text transform="translate(1398.40,64.60) scale(1,1)" text-anchor="end" font-size="14.7">80</text>
<line x1="1409.60" y1="486.4" x2="1409.60" y2="491.70" stroke="#000" stroke-width="1.3"/>
<text transform="translate(1409.60,508.40) scale(1,1)" text-anchor="middle" font-size="14.4">0</text>
<line x1="1487.97" y1="486.4" x2="1487.97" y2="491.70" stroke="#000" stroke-width="1.3"/>
<text transform="translate(1487.97,508.40) scale(1,1)" text-anchor="middle" font-size="14.4">10</text>
<line x1="1566.34" y1="486.4" x2="1566.34" y2="491.70" stroke="#000" stroke-width="1.3"/>
<text transform="translate(1566.34,508.40) scale(1,1)" text-anchor="middle" font-size="14.4">20</text>
<line x1="1644.71" y1="486.4" x2="1644.71" y2="491.70" stroke="#000" stroke-width="1.3"/>
<text transform="translate(1644.71,508.40) scale(1,1)" text-anchor="middle" font-size="14.4">30</text>
<line x1="1723.08" y1="486.4" x2="1723.08" y2="491.70" stroke="#000" stroke-width="1.3"/>
<text transform="translate(1723.08,508.40) scale(1,1)" text-anchor="middle" font-size="14.4">40</text>
<line x1="1801.45" y1="486.4" x2="1801.45" y2="491.70" stroke="#000" stroke-width="1.3"/>
<text transform="translate(1801.45,508.40) scale(1,1)" text-anchor="middle" font-size="14.4">50</text>
<line x1="1879.82" y1="486.4" x2="1879.82" y2="491.70" stroke="#000" stroke-width="1.3"/>
<text transform="translate(1879.82,508.40) scale(1,1)" text-anchor="middle" font-size="14.4">60</text>
<line x1="1958.19" y1="486.4" x2="1958.19" y2="491.70" stroke="#000" stroke-width="1.3"/>
<text transform="translate(1958.19,508.40) scale(1,1)" text-anchor="middle" font-size="14.4">70</text>
<text x="1702.39" y="22.4" text-anchor="middle" font-size="18">ZUCK_p_VIS03</text>
<text transform="translate(1370.9,260.0) rotate(-90)" text-anchor="middle" font-size="14.7">Count</text>
<rect x="1880.70" y="242.70" width="29.40" height="11.30" rx="1" fill="#8fbbd9" stroke="#000" stroke-width="1.3"/>
<text x="1922.20" y="253.10" font-size="15.2">Real Data</text>
<rect x="1880.70" y="265.30" width="29.40" height="9.80" rx="1" fill="#ffbf86" stroke="#000" stroke-width="1.3"/>
<text x="1922.20" y="274.40" font-size="15.2" letter-spacing="-0.4">VAMBN-MT</text>
</svg>
<div class="cap b" style="left:221.7px">(a)</div><div class="cap s" style="left:282.5px">VAMBN</div>
<div class="cap b" style="left:869.7px">(b)</div><div class="cap s" style="left:933.7px">VAMBN-FT</div>
<div class="cap b" style="left:1542.5px">(c)</div><div class="cap s" style="left:1604.0px">VAMBN-MT</div>
</body></html>
